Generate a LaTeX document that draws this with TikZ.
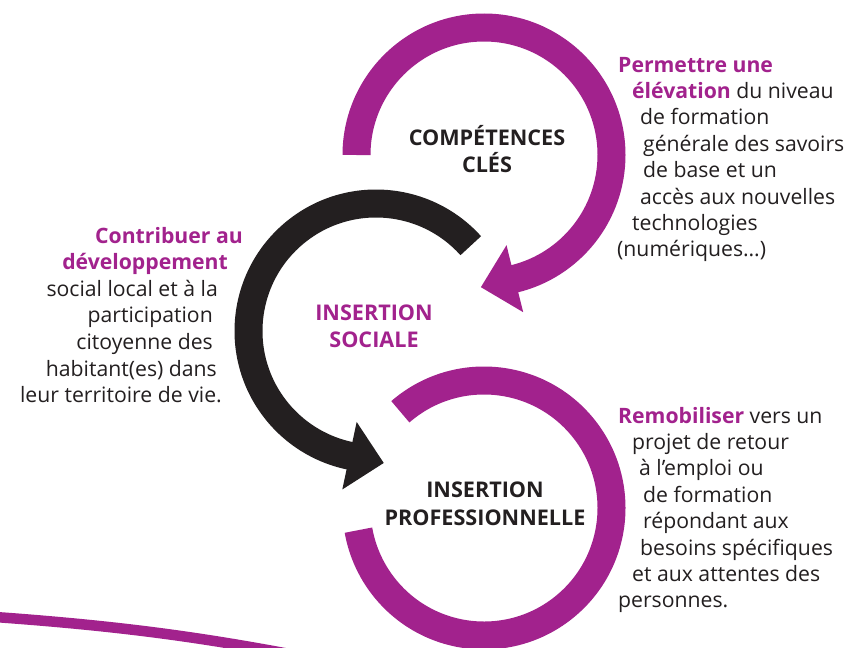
\documentclass[tikz,border=0pt]{standalone}
\usepackage{fontspec}
\setmainfont{Open Sans}
\usetikzlibrary{calc}

\definecolor{mauve}{HTML}{A2228D}
\definecolor{encre}{HTML}{231F20}
\newcommand{\hl}[1]{\textcolor{mauve}{\bfseries #1}}

\begin{document}
\begin{tikzpicture}[x=1pt,y=1pt,
    ring/.style={line width=28pt},
    titre/.style={font=\bfseries\fontsize{21.6}{27}\selectfont, anchor=base, inner sep=0pt},
    texte/.style={font=\fontsize{21.2}{26}\selectfont, text=encre, inner sep=0pt}]
    \useasboundingbox (0,0) rectangle (855,-648);
    \clip (0,0) rectangle (855,-648);
    \fill[white] (0,0) rectangle (855,-648);

    % centres des trois cercles
    \coordinate (cles) at (484,-155);
    \coordinate (sociale) at (376,-331);
    \coordinate (pro) at (484,-508);
    \newcommand{\rmid}{127.5}

    % bande en bas a gauche
    \draw[mauve, line width=10.5pt] (-5,-617) .. controls (120,-626) and (200,-637) .. (300,-656);

    % competences cles, fleche violette
    \draw[ring, mauve] ($(cles)+(180:\rmid)$) arc[start angle=180, end angle=-76.5, radius=\rmid];
    \fill[mauve] ($(cles)+(-76:93)$) -- ($(cles)+(-76:162)$) -- ($(cles)+(-91.35:132.2)$) -- cycle;

    % insertion sociale, fleche noire
    \draw[ring, encre] ($(sociale)+(42:\rmid)$) arc[start angle=42, end angle=258.5, radius=\rmid];
    \fill[encre] ($(sociale)+(258:93)$) -- ($(sociale)+(258:162)$) -- ($(sociale)+(273.35:132.2)$) -- cycle;

    % insertion professionnelle
    \draw[ring, mauve] ($(pro)+(131:\rmid)$) arc[start angle=131, end angle=-170, radius=\rmid];

    \node[titre, text=encre] (comp) at (487,-145) {COMPÉTENCES};
    \node[titre, text=encre] (clestxt) at (487,-172) {CLÉS};
    \node[titre, text=mauve] (ins1) at (374,-320) {INSERTION};
    \node[titre, text=mauve] (soc) at (374,-347) {SOCIALE};
    \node[titre, text=encre] (ins2) at (485,-497) {INSERTION};
    \node[titre, text=encre] (prof) at (485,-525) {PROFESSIONNELLE};

    \foreach \x/\txt [count=\i] in {618/{\hl{Permettre une}}, 632/{\hl{élévation} du niveau},
        640/{de formation}, 643/{générale des savoirs}, 643/{de base et un},
        640/{accès aux nouvelles}, 632/{technologies}, 617/{(numériques…)}}
    {
      \node[texte, anchor=base west] (elev\i) at (\x,-45.6-26.4*\i) {\txt};
    }

    \foreach \x/\txt [count=\i] in {243/{\hl{Contribuer au}}, 228/{\hl{développement}},
        218/{social local et à la}, 213/{participation}, 213/{citoyenne des},
        217/{habitant(es) dans}, 222/{leur territoire de vie.}}
    {
      \node[texte, anchor=base east] (dev\i) at (\x,-216.4-26.6*\i) {\txt};
    }

    \foreach \x/\txt [count=\i] in {618/{\hl{Remobiliser} vers un}, 632/{projet de retour},
        639/{à l’emploi ou}, 643/{de formation}, 643/{répondant aux},
        640/{besoins spécifiques}, 632/{et aux attentes des}, 618/{personnes.}}
    {
      \node[texte, anchor=base west] (remo\i) at (\x,-396.6-26.4*\i) {\txt};
    }
\end{tikzpicture}
\end{document}
